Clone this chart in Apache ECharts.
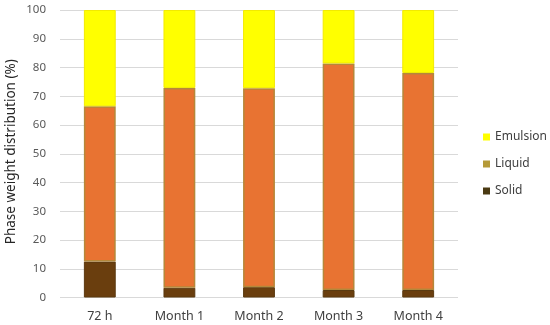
<!DOCTYPE html>
<html><head><meta charset="utf-8">
<script src="https://cdn.jsdelivr.net/npm/echarts@6/dist/echarts.min.js"></script>
<style>html,body{margin:0;padding:0;background:#fff}#c{width:550px;height:325px}</style>
</head><body><div id="c"></div>
<script>
const categories = ['72 h', 'Month 1', 'Month 2', 'Month 3', 'Month 4'];
const solid = [12.5, 3.4, 3.6, 2.6, 2.6];
const liquid = [54.0, 69.5, 69.2, 78.8, 75.5];
const emulsion = [33.5, 27.1, 27.2, 18.6, 21.9];
const yTicks = [0, 10, 20, 30, 40, 50, 60, 70, 80, 90, 100];

const font = 'Noto Sans';
const chart = echarts.init(document.getElementById('c'), null, {renderer: 'canvas'});
chart.setOption({
  animation: false,
  grid: {left: 60, right: 92, top: 10, bottom: 27.5, containLabel: false, outerBoundsMode: 'none'},
  xAxis: {
    type: 'category', data: categories,
    axisLine: {show: false}, axisTick: {show: false},
    axisLabel: {color: '#404040', fontSize: 12.5, fontFamily: font, margin: 12}
  },
  yAxis: {
    type: 'value', min: 0, max: 100, interval: 10,
    name: 'Phase weight distribution (%)', nameLocation: 'middle', nameGap: 42,
    nameMoveOverlap: false,
    nameTextStyle: {color: '#262626', fontSize: 13.5, fontFamily: font, padding: [0, 0, 0, 4]},
    axisLine: {show: false}, axisTick: {show: false},
    axisLabel: {color: '#595959', fontSize: 11.5, fontFamily: font, margin: 14,
      formatter: v => yTicks.includes(v) ? String(v) : ''},
    splitLine: {lineStyle: {color: '#d9d9d9', width: 1}}
  },
  legend: {
    orient: 'vertical', left: 478, top: 126, itemGap: 15,
    itemWidth: 7, itemHeight: 7, icon: 'rect',
    textStyle: {color: '#404040', fontSize: 12, fontFamily: font},
    data: [
      {name: 'Emulsion', itemStyle: {color: '#FFFF00', borderWidth: 0}},
      {name: 'Liquid', itemStyle: {color: '#B59A38', borderWidth: 0}},
      {name: 'Solid', itemStyle: {color: '#4A3A12', borderWidth: 0}}
    ]
  },
  series: [
    {name: 'Solid', type: 'bar', stack: 'a', data: solid, barWidth: '40%',
      itemStyle: {color: '#6A3E0E', borderColor: '#5A3A10', borderWidth: 1}},
    {name: 'Liquid', type: 'bar', stack: 'a', data: liquid, barWidth: '40%',
      itemStyle: {color: '#E87332', borderColor: '#B5883A', borderWidth: 1.5}},
    {name: 'Emulsion', type: 'bar', stack: 'a', data: emulsion, barWidth: '40%',
      itemStyle: {color: '#FFFF00', borderColor: '#F2EA00', borderWidth: 1}}
  ]
});
</script></body></html>
